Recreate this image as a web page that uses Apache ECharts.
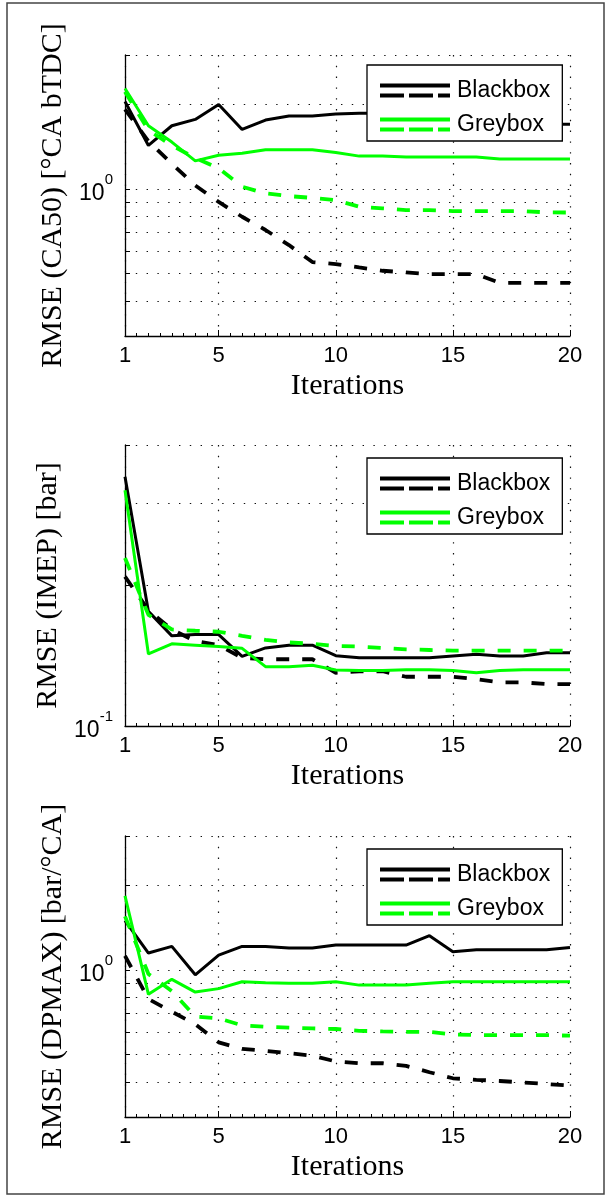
<!DOCTYPE html>
<html>
  <head>
    <meta charset="utf-8">
    <title>RMSE vs iterations</title>
    <style type="text/css">
    html, body{margin:0;padding:0;background:#fff;}
    #main{width:606px;height:1196px;}
    </style>
    <script src="https://cdn.jsdelivr.net/npm/echarts@6/dist/echarts.min.js"></script>
  </head>
  <body>
    <div id="main"></div>
    <script type="text/javascript">
      // iterations on the x axis
      var iterations = [1,2,3,4,5,6,7,8,9,10,11,12,13,14,15,16,17,18,19,20];
      var xTickLabels = [1,5,10,15,20];
      var xMinorTicks = [1.5,2,2.5,3,3.5,4,4.5,5.5,6,6.5,7,7.5,8,8.5,9,9.5,10.5,11,11.5,12,12.5,13,13.5,14,14.5,15.5,16,16.5,17,17.5,18,18.5,19,19.5];

      // RMSE (CA50)
      var ca50BlackSolid  = [2.05,1.43,1.68,1.77,2.0,1.63,1.76,1.82,1.82,1.85,1.86,1.86,1.85,1.84,1.83,1.80,1.76,1.72,1.70,1.70];
      var ca50BlackDashed = [1.92,1.48,1.23,1.03,0.90,0.797,0.715,0.632,0.55,0.541,0.526,0.512,0.505,0.498,0.498,0.498,0.464,0.464,0.464,0.464];
      var ca50GreySolid   = [2.28,1.68,1.47,1.26,1.32,1.34,1.38,1.38,1.38,1.35,1.31,1.31,1.30,1.30,1.30,1.30,1.28,1.28,1.28,1.28];
      var ca50GreyDashed  = [2.22,1.62,1.43,1.29,1.185,1.02,0.965,0.944,0.93,0.914,0.865,0.854,0.842,0.842,0.835,0.835,0.835,0.835,0.826,0.825];

      // RMSE (IMEP)
      var imepBlackSolid  = [0.342,0.176,0.156,0.157,0.157,0.141,0.147,0.149,0.149,0.1415,0.140,0.140,0.140,0.140,0.1412,0.1424,0.1412,0.1412,0.1436,0.1436];
      var imepBlackDashed = [0.209,0.177,0.161,0.152,0.149,0.140,0.139,0.139,0.139,0.130,0.131,0.131,0.1275,0.1275,0.1275,0.126,0.124,0.124,0.123,0.123];
      var imepGreySolid   = [0.320,0.1427,0.150,0.149,0.148,0.1467,0.134,0.134,0.135,0.1318,0.1315,0.1315,0.132,0.132,0.1315,0.130,0.1315,0.132,0.132,0.132];
      var imepGreyDashed  = [0.229,0.173,0.161,0.160,0.1592,0.156,0.153,0.151,0.150,0.1484,0.148,0.147,0.146,0.1455,0.145,0.145,0.145,0.145,0.145,0.145];

      // RMSE (DPMAX)
      var dpmaxBlackSolid  = [1.50,1.15,1.214,0.962,1.131,1.214,1.214,1.198,1.198,1.227,1.227,1.227,1.227,1.325,1.162,1.181,1.181,1.181,1.181,1.204];
      var dpmaxBlackDashed = [1.124,0.789,0.711,0.642,0.553,0.524,0.516,0.506,0.496,0.473,0.466,0.466,0.456,0.433,0.412,0.407,0.403,0.398,0.393,0.388];
      var dpmaxGreySolid   = [1.838,0.820,0.927,0.835,0.859,0.909,0.902,0.897,0.897,0.909,0.884,0.884,0.884,0.897,0.909,0.909,0.909,0.909,0.909,0.909];
      var dpmaxGreyDashed  = [1.553,0.968,0.842,0.683,0.673,0.636,0.628,0.624,0.620,0.617,0.608,0.605,0.603,0.603,0.590,0.587,0.587,0.587,0.587,0.584];

      var yNames = ['RMSE (CA50) [°CA bTDC]', 'RMSE (IMEP) [bar]', 'RMSE (DPMAX) [bar/°CA]'];
      var yRanges = [[0.3, 3], [0.1, 0.4], [0.3, 3]];
      var yGridValues = [[0.4,0.5,0.6,0.7,0.8,0.9,1,2,3], [0.2,0.3,0.4], [0.4,0.5,0.6,0.7,0.8,0.9,1,2,3]];
      var yTickLabels = [[1], [0.1], [1]];
      var seriesNames = ['Blackbox', 'Greybox'];

      var panels = [
        [ca50BlackSolid, ca50BlackDashed, ca50GreySolid, ca50GreyDashed],
        [imepBlackSolid, imepBlackDashed, imepGreySolid, imepGreyDashed],
        [dpmaxBlackSolid, dpmaxBlackDashed, dpmaxGreySolid, dpmaxGreyDashed]
      ];

      var tops = [55, 445, 836];
      var legendTops = [65, 458, 849];
      var plotH = 281;
      var dotted = {color: '#111', width: 1.2, type: [1.4, 9.4]};
      var sansFont = 'Liberation Sans, Arial, sans-serif';
      var serifFont = 'Liberation Serif, Times New Roman, serif';
      var legendIcon = 'path://M0,0H70V4H0Z M0,10H24V14H0Z M29,10H53V14H29Z M58,10H70V14H58Z';

      function pairs(ys) {
        return ys.map(function (y, i) { return [iterations[i], y]; });
      }

      var grids = [], xAxes = [], yAxes = [], series = [], legends = [];
      for (var p = 0; p < 3; p++) {
        grids.push({left: 125, top: tops[p], width: 445, height: plotH});
        xAxes.push({
          type: 'value', gridIndex: p, min: 1, max: 20,
          name: 'Iterations', nameLocation: 'middle', nameGap: 35,
          nameTextStyle: {fontFamily: serifFont, fontSize: 30, color: '#000'},
          axisLine: {onZero: false, lineStyle: {color: '#000', width: 1.3}},
          axisTick: {inside: true, length: 6, customValues: xTickLabels, lineStyle: {color: '#000'}},
          axisLabel: {customValues: xTickLabels, margin: 9, fontFamily: sansFont, fontSize: 22, color: '#000'},
          splitLine: {show: true, lineStyle: dotted}
        });
        // minor ticks along the bottom
        xAxes.push({
          type: 'value', gridIndex: p, min: 1, max: 20, position: 'bottom',
          axisLine: {show: false},
          axisTick: {inside: true, length: 3, customValues: xMinorTicks, lineStyle: {color: '#000'}},
          axisLabel: {show: false},
          splitLine: {show: false}
        });
        yAxes.push({
          type: 'log', logBase: 10, gridIndex: p, min: yRanges[p][0], max: yRanges[p][1],
          name: yNames[p], nameLocation: 'middle', nameGap: 57, nameRotate: 90,
          nameTextStyle: {fontFamily: serifFont, fontSize: 30, color: '#000'},
          axisLine: {onZero: false, lineStyle: {color: '#000', width: 1.3}},
          axisTick: {inside: true, length: 5, customValues: yGridValues[p], lineStyle: {color: '#000'}},
          axisLabel: {
            customValues: yTickLabels[p], margin: 12, fontFamily: sansFont, color: '#000',
            formatter: function (v) {
              var e = Math.round(Math.log(v) / Math.LN10);
              return '{b|10}{s|' + e + '}';
            },
            rich: {
              b: {fontFamily: sansFont, fontSize: 23, color: '#000', padding: [10, 0, 0, 0]},
              s: {fontFamily: sansFont, fontSize: 15, color: '#000', verticalAlign: 'top'}
            }
          },
          splitLine: {show: true, lineStyle: dotted}
        });
        var data = panels[p];
        var styles = [
          {name: 'Blackbox', color: '#000000', type: 'solid', width: 3},
          {name: 'Blackbox', color: '#000000', type: [13, 13], width: 3.8},
          {name: 'Greybox', color: '#00ff00', type: 'solid', width: 3},
          {name: 'Greybox', color: '#00ff00', type: [13, 13], width: 3.8}
        ];
        for (var s = 0; s < 4; s++) {
          series.push({
            type: 'line', name: styles[s].name, xAxisIndex: p * 2, yAxisIndex: p,
            data: pairs(data[s]), symbol: 'none', silent: true, color: styles[s].color,
            lineStyle: {color: styles[s].color, width: styles[s].width, type: styles[s].type}
          });
        }
        legends.push({
          data: seriesNames.map(function (n) { return {name: n, icon: legendIcon}; }),
          orient: 'vertical', left: 367, top: legendTops[p], width: 195,
          padding: [14, 12, 5, 13], itemGap: 11, itemWidth: 70, itemHeight: 14,
          backgroundColor: '#fff', borderColor: '#000', borderWidth: 1.3,
          selectedMode: false, itemStyle: {borderWidth: 0},
          textStyle: {fontFamily: sansFont, fontSize: 23, color: '#000', padding: [0, 0, 0, 2]}
        });
      }

      var chart = echarts.init(document.getElementById('main'));
      chart.setOption({
        animation: false,
        backgroundColor: '#fff',
        grid: grids,
        xAxis: xAxes,
        yAxis: yAxes,
        legend: legends,
        series: series,
        graphic: [{
          type: 'rect', silent: true, z: 100,
          shape: {x: 7, y: 3, width: 597, height: 1191},
          style: {fill: 'none', stroke: '#444', lineWidth: 1.5}
        }]
      });
    </script>
  </body>
</html>
